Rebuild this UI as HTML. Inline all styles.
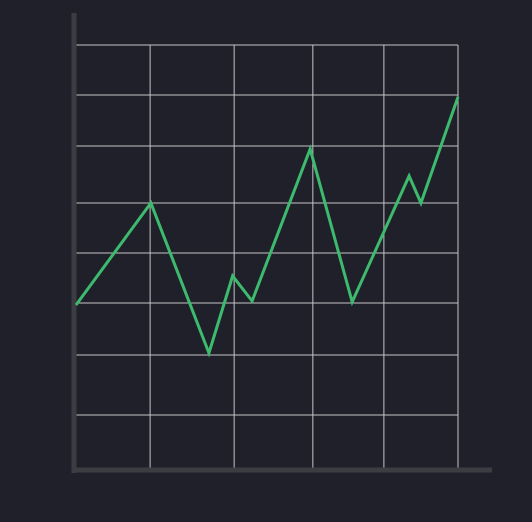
<!DOCTYPE html>
<html><head><meta charset="utf-8"><style>
html,body{margin:0;padding:0;background:#1f2029;}
svg{display:block;}
</style></head><body>
<svg id="chart" width="532" height="522" viewBox="0 0 532 522" xmlns="http://www.w3.org/2000/svg">
<rect width="532" height="522" fill="#1f2029"/>
<g id="grid"></g>
<g id="axes"></g>
<polyline id="series" fill="none" stroke="#3dba6e" stroke-width="3" stroke-linejoin="miter"/>
</svg>
<script>
const xValues = [0, 1.96, 3.48, 4.1, 4.61, 6.13, 7.23, 8.72, 9.03, 10];
const yValues = [3.3, 5.34, 2.34, 3.88, 3.38, 6.42, 3.36, 5.88, 5.34, 7.46];
const xGrid = [0, 1.94, 4.14, 6.2, 8.06, 10];
const yGrid = [1.1, 2.3, 3.34, 4.34, 5.34, 6.48, 7.5, 8.5];

const X0 = 76, X1 = 458, Y0 = 470, YTOP = 45;
function xs(v){ return X0 + (X1 - X0) * v / 10; }
function ys(v){ return Y0 - (Y0 - YTOP) * v / 8.5; }
const NS = "http://www.w3.org/2000/svg";
const grid = document.getElementById('grid');
xGrid.forEach(v => {
  const l = document.createElementNS(NS, 'line');
  l.setAttribute('x1', xs(v)); l.setAttribute('x2', xs(v));
  l.setAttribute('y1', ys(8.5)); l.setAttribute('y2', Y0);
  l.setAttribute('stroke', '#c4c4c8'); l.setAttribute('stroke-width', '1');
  
  
  grid.appendChild(l);
});
yGrid.forEach(v => {
  const l = document.createElementNS(NS, 'line');
  l.setAttribute('x1', X0); l.setAttribute('x2', X1);
  l.setAttribute('y1', ys(v)); l.setAttribute('y2', ys(v));
  l.setAttribute('stroke', '#c4c4c8'); l.setAttribute('stroke-width', '1');
  
  
  grid.appendChild(l);
});
const axes = document.getElementById('axes');
const ya = document.createElementNS(NS, 'line');
ya.setAttribute('x1', 74); ya.setAttribute('x2', 74); ya.setAttribute('y1', 13); ya.setAttribute('y2', 473);
ya.setAttribute('stroke', '#3c3d42'); ya.setAttribute('stroke-width', '5');


axes.appendChild(ya);
const xa = document.createElementNS(NS, 'line');
xa.setAttribute('x1', 72); xa.setAttribute('x2', 492); xa.setAttribute('y1', 470); xa.setAttribute('y2', 470);
xa.setAttribute('stroke', '#3c3d42'); xa.setAttribute('stroke-width', '5');


axes.appendChild(xa);
document.getElementById('series').setAttribute('points',
  xValues.map((x, i) => xs(x) + ',' + ys(yValues[i])).join(' '));
</script>
</body></html>
